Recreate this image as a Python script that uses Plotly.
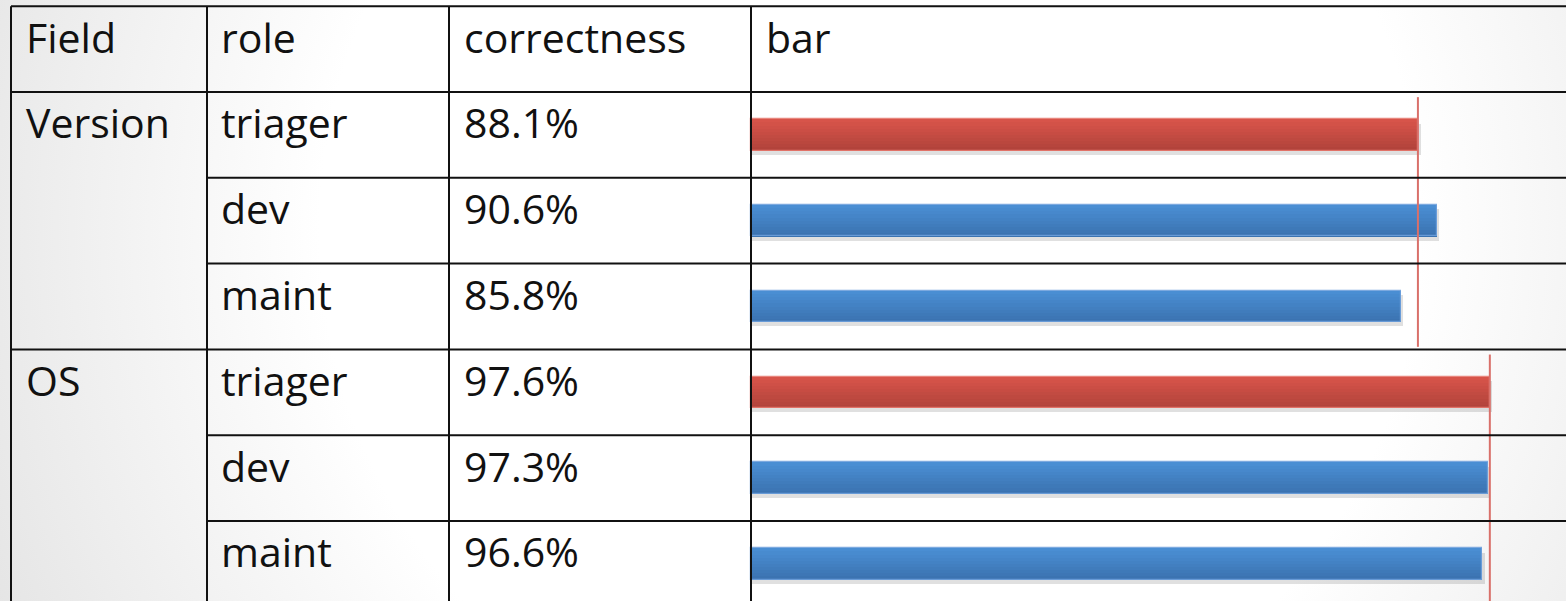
import base64
import plotly.graph_objects as go

# ---------------- data ----------------
header = ["Field", "role", "correctness", "bar"]
fields = ["Version", "", "", "OS", "", ""]
roles = ["triager", "dev", "maint", "triager", "dev", "maint"]
correctness = [88.1, 90.6, 85.8, 97.6, 97.3, 96.6]
groups = [[0, 1, 2], [3, 4, 5]]          # rows belonging to each field
ref_role = "triager"                      # reference line follows triager value

# ---------------- geometry / style ----------------
W, H = 1566, 601
PX_PER_PCT = 7.57
BAR_X0 = 751                      # pixel where 0% sits
ROW_H = 85.8
FIRST_ROW_TOP = 92
col_px = [11, 207, 449, 751]      # column left edges
text_px = [24, 219, 462, 764]     # text left edges
FONT = dict(family="Open Sans", size=41, color="#111111")

red_top, red_bot = (217, 85, 75), (176, 66, 58)
blue_top, blue_bot = (75, 144, 213), (58, 113, 175)

def py_to_row(py):
    return (py - FIRST_ROW_TOP) / ROW_H - 0.5

y_top = py_to_row(0)
y_bot = py_to_row(H)
x_lo = -BAR_X0 / PX_PER_PCT
x_hi = (W - BAR_X0) / PX_PER_PCT

def mix(a, b, t):
    return "rgb(%d,%d,%d)" % tuple(round(a[i] + (b[i] - a[i]) * t) for i in range(3))

fig = go.Figure()

rows = list(range(len(roles)))
BW = 0.365

# shadow
fig.add_trace(go.Bar(
    y=rows, x=[v + 0.35 for v in correctness], orientation="h",
    width=BW, offset=-BW / 2 + 0.05,
    marker=dict(color="rgba(0,0,0,0.12)", line=dict(width=0)),
    hoverinfo="skip", showlegend=False))

# gradient bands
N = 10
for k in range(N):
    t = (k + 0.5) / N
    cols = [mix(red_top, red_bot, t) if r == ref_role else mix(blue_top, blue_bot, t) for r in roles]
    fig.add_trace(go.Bar(
        y=rows, x=correctness, orientation="h",
        width=BW / N + 0.002, offset=-BW / 2 + k * BW / N,
        marker=dict(color=cols, line=dict(width=0)),
        hoverinfo="skip", showlegend=False))

# outline
fig.add_trace(go.Bar(
    y=rows, x=correctness, orientation="h",
    width=BW, offset=-BW / 2,
    marker=dict(color="rgba(0,0,0,0)",
                line=dict(width=1.2,
                          color=["rgba(230,120,110,0.9)" if r == ref_role else "rgba(110,160,220,0.9)" for r in roles])),
    hoverinfo="skip", showlegend=False, name="bars"))

# reference lines per group
for g in groups:
    ref_val = [correctness[i] for i in g if roles[i] == ref_role][0]
    y0 = g[0] - 0.5 + 0.06
    y1 = g[-1] + 0.5 - 0.03
    fig.add_trace(go.Scatter(
        x=[ref_val, ref_val], y=[y0, y1], mode="lines",
        line=dict(color="#d9706a", width=2),
        hoverinfo="skip", showlegend=False))

# ---------------- table grid ----------------
LINE = dict(color="#111111", width=2)
shapes = []
for cx in col_px:
    shapes.append(dict(type="line", xref="paper", yref="y",
                       x0=cx / W, x1=cx / W, y0=-1.5, y1=y_bot + 0.2, line=LINE, layer="above"))
# top border and header bottom
shapes.append(dict(type="line", xref="paper", yref="y", x0=col_px[0] / W, x1=1, y0=-1.5, y1=-1.5, line=LINE, layer="above"))
for i in range(len(roles)):
    yb = i - 0.5
    starts_group = any(i == g[0] for g in groups)
    x0 = col_px[0] / W if starts_group else col_px[1] / W
    shapes.append(dict(type="line", xref="paper", yref="y", x0=x0, x1=1, y0=yb, y1=yb, line=LINE, layer="above"))

# ---------------- texts ----------------
ann = []
TEXT_DY = 0.355  # from row top, in row units

def add_text(col, row_top, txt):
    if not txt:
        return
    ann.append(dict(text=txt, xref="paper", yref="y", x=text_px[col] / W, y=row_top + TEXT_DY,
                    xanchor="left", yanchor="middle", showarrow=False, font=FONT))

for c, h in enumerate(header):
    add_text(c, -1.5, h)
for i in rows:
    add_text(0, i - 0.5, fields[i])
    add_text(1, i - 0.5, roles[i])
    add_text(2, i - 0.5, f"{correctness[i]:.1f}%")

# ---------------- background (radial slide gradient) ----------------
svg = (f'<svg xmlns="http://www.w3.org/2000/svg" width="{W}" height="{H}" viewBox="0 0 {W} {H}" '
       f'preserveAspectRatio="none"><defs><radialGradient id="g" gradientUnits="userSpaceOnUse" '
       f'cx="870" cy="230" r="1000">'
       f'<stop offset="0" stop-color="#ffffff"/><stop offset="0.55" stop-color="#ffffff"/>'
       f'<stop offset="1" stop-color="#e2e2e2"/></radialGradient></defs>'
       f'<rect width="{W}" height="{H}" fill="url(#g)"/></svg>')
src = "data:image/svg+xml;base64," + base64.b64encode(svg.encode()).decode()

fig.update_layout(
    width=W, height=H,
    margin=dict(l=0, r=0, t=0, b=0),
    paper_bgcolor="white", plot_bgcolor="rgba(0,0,0,0)",
    barmode="overlay", bargap=0,
    xaxis=dict(range=[x_lo, x_hi], visible=False, fixedrange=True),
    yaxis=dict(range=[y_bot, y_top], visible=False, fixedrange=True),
    shapes=shapes, annotations=ann,
    images=[dict(source=src, xref="paper", yref="paper", x=0, y=1, sizex=1, sizey=1,
                 sizing="stretch", layer="below", xanchor="left", yanchor="top")],
    showlegend=False,
)

fig.write_html("out.html")
